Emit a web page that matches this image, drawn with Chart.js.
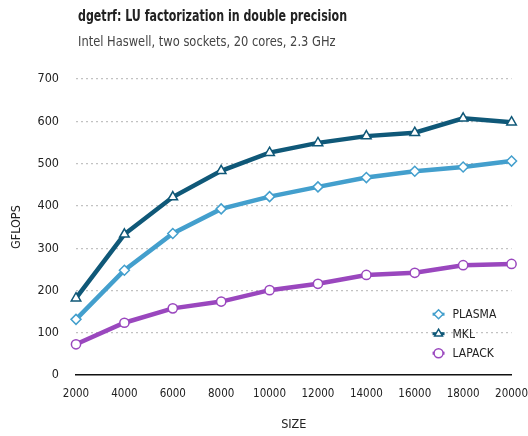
<!DOCTYPE html>
<html>
<head>
<meta charset="utf-8">
<script src="https://cdn.jsdelivr.net/npm/chart.js@4"></script>
<style>
  body { margin: 0; background: #fff; }
  #wrap { position: relative; width: 528px; height: 436px; font-family: 'DejaVu Sans Condensed', sans-serif; color: #222; }
  #title { position: absolute; left: 78px; top: 7px; font-size: 15px; font-weight: bold; white-space: nowrap; transform: scaleX(0.82); transform-origin: left top; }
  #subtitle { position: absolute; left: 78px; top: 33px; font-size: 14.5px; color: #444; white-space: nowrap; transform: scaleX(0.88); transform-origin: left top; }
  canvas { position: absolute; left: 0; top: 0; }
</style>
</head>
<body>
<div id="wrap">
  <canvas id="chart" width="528" height="436"></canvas>
  <div id="title">dgetrf: LU factorization in double precision</div>
  <div id="subtitle">Intel Haswell, two sockets, 20 cores, 2.3 GHz</div>
</div>
<script>
// ========================================
// Data
// ========================================
const sizes = ['2000', '4000', '6000', '8000', '10000', '12000', '14000', '16000', '18000', '20000'];
const plasma = [132, 248, 335, 393, 422, 445, 467, 482, 492, 506];
const mkl = [182, 333, 421, 483, 526, 549, 565, 573, 607, 598];
const lapack = [73, 124, 158, 174, 201, 216, 237, 242, 260, 263];

const FONT = "'DejaVu Sans Condensed', sans-serif";

// Legend drawn inside the plot, bottom right
const insideLegend = {
    id: 'insideLegend',
    afterDatasetsDraw(chart) {
        const ctx = chart.ctx;
        const area = chart.chartArea;
        const x0 = area.right - 73;
        const y0 = area.bottom - 61;
        chart.data.datasets.forEach((ds, i) => {
            const y = y0 + i * 19.5;
            ctx.save();
            ctx.strokeStyle = ds.borderColor;
            ctx.lineWidth = 3;
            ctx.beginPath();
            ctx.moveTo(x0 - 6, y);
            ctx.lineTo(x0 + 6, y);
            ctx.stroke();
            ctx.fillStyle = '#fff';
            ctx.lineWidth = ds.pointBorderWidth;
            Chart.helpers.drawPoint(ctx, {
                pointStyle: ds.pointStyle,
                radius: 4.5,
                rotation: 0,
                borderWidth: ds.pointBorderWidth
            }, x0, y);
            ctx.fillStyle = '#222';
            ctx.font = '12px ' + FONT;
            ctx.textBaseline = 'middle';
            ctx.fillText(ds.label, x0 + 14, y + 1);
            ctx.restore();
        });
    }
};

function series(label, data, color, style, radius) {
    return {
        label: label,
        data: data,
        borderColor: color,
        backgroundColor: '#fff',
        borderWidth: 4.5,
        pointStyle: style,
        pointRadius: radius,
        pointBackgroundColor: '#fff',
        pointBorderColor: color,
        pointBorderWidth: 1.5,
        tension: 0,
        clip: false
    };
}

new Chart(document.getElementById('chart'), {
    type: 'line',
    data: {
        labels: sizes,
        datasets: [
            series('PLASMA', plasma, '#439fcd', 'rectRot', 5),
            series('MKL', mkl, '#0f5878', 'triangle', 5.5),
            series('LAPACK', lapack, '#9a47be', 'circle', 4.6)
        ]
    },
    options: {
        responsive: false,
        animation: false,
        layout: { padding: { top: 79, right: 0, left: 9, bottom: 4 } },
        plugins: {
            legend: { display: false },
            tooltip: { enabled: false }
        },
        scales: {
            x: {
                offset: false,
                grid: { display: true, drawOnChartArea: false, drawTicks: true, tickLength: 12, color: 'rgba(0,0,0,0)' },
                border: { display: true, color: '#111', width: 1.5 },
                ticks: { color: '#222', font: { family: FONT, size: 11.5 }, padding: 0, maxRotation: 0, autoSkip: false },
                title: { display: true, text: 'SIZE', color: '#222', font: { family: FONT, size: 12.5 }, padding: { top: 16, bottom: 0 } }
            },
            y: {
                min: 0,
                max: 700,
                afterFit(scale) { scale.width = 67; },
                ticks: { stepSize: 100, color: '#222', font: { family: FONT, size: 12.5 }, padding: 17 },
                grid: {
                    drawTicks: false,
                    lineWidth: 1.2,
                    color: c => c.tick.value === 0 ? 'rgba(0,0,0,0)' : '#c2c2c2'
                },
                border: { display: false, dash: [2, 3] },
                title: { display: true, text: 'GFLOPS', color: '#222', font: { family: FONT, size: 12.5 }, padding: { top: 0, bottom: 0 } }
            }
        }
    },
    plugins: [insideLegend]
});
</script>
</body>
</html>
